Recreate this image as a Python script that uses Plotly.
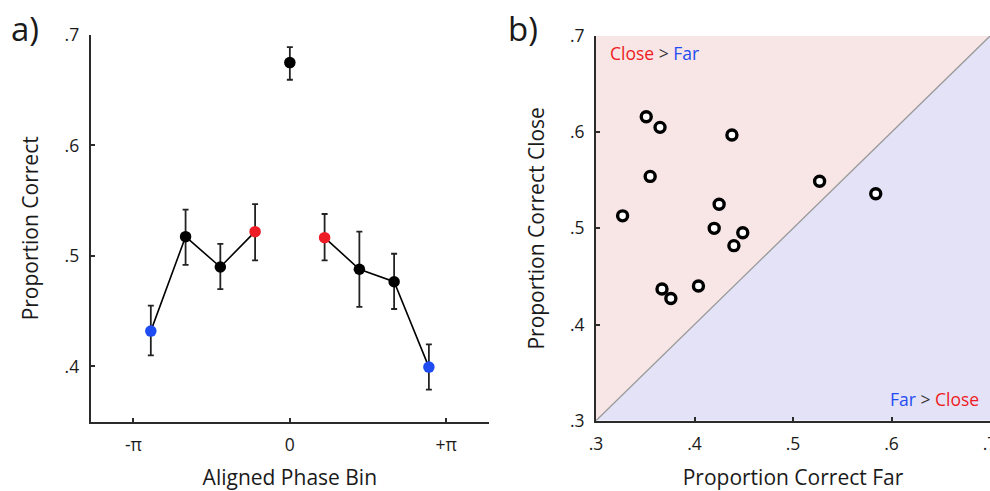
import numpy as np
import plotly.graph_objects as go

# ---------------- data ----------------
# panel a: aligned phase bins (in units of pi)
bin_frac_pi = [-8/9, -6/9, -4/9, -2/9, 0, 2/9, 4/9, 6/9, 8/9]
prop_correct = [0.432, 0.5175, 0.490, 0.522, 0.675, 0.5166, 0.488, 0.4767, 0.3994]
err_upper = [0.455, 0.542, 0.511, 0.547, 0.689, 0.538, 0.522, 0.502, 0.420]
err_lower = [0.410, 0.492, 0.470, 0.496, 0.6595, 0.496, 0.454, 0.452, 0.379]
bin_group = ["far", "mid", "mid", "close", "peak", "close", "mid", "mid", "far"]
x_tick_labels = ["-π", "0", "+π"]
y_tick_labels_a = [".4", ".5", ".6", ".7"]

# panel b: per-subject proportion correct
prop_far = [0.351, 0.365, 0.438, 0.355, 0.327, 0.527, 0.584, 0.425, 0.420, 0.449, 0.440, 0.367, 0.376, 0.404]
prop_close = [0.616, 0.605, 0.597, 0.554, 0.513, 0.549, 0.536, 0.525, 0.500, 0.4955, 0.482, 0.437, 0.427, 0.440]
tick_labels_b = [".3", ".4", ".5", ".6", ".7"]

# ---------------- styling ----------------
RED = "#ee1c24"
BLUE = "#1f4cf2"
PINK = "#f8e5e5"
LAVENDER = "#e4e2f7"
AX = "#2b2b2b"
FONT = "Open Sans"
group_color = {"far": BLUE, "mid": "#000000", "close": RED, "peak": "#000000"}

W, H = 990, 491

def dom_x(a, b):
    return [a / W, b / W]

def dom_y(top, bottom):
    return [(H - bottom) / H, (H - top) / H]

fig = go.Figure()

x_rad = [f * np.pi for f in bin_frac_pi]
# connecting line: peak bin is not connected
line_y = [v if g != "peak" else None for v, g in zip(prop_correct, bin_group)]
fig.add_trace(go.Scatter(
    x=x_rad, y=line_y, mode="lines", connectgaps=False,
    line=dict(color="#000000", width=1.6), hoverinfo="skip", showlegend=False,
    xaxis="x", yaxis="y"))
fig.add_trace(go.Scatter(
    x=x_rad, y=prop_correct, mode="markers",
    marker=dict(size=11.5, color=[group_color[g] for g in bin_group]),
    error_y=dict(type="data", symmetric=False,
                 array=[u - v for u, v in zip(err_upper, prop_correct)],
                 arrayminus=[v - l for l, v in zip(err_lower, prop_correct)],
                 color="#222222", thickness=1.8, width=3),
    showlegend=False, xaxis="x", yaxis="y"))

# panel b
lo_b, hi_b = 0.3, 0.7
fig.add_trace(go.Scatter(
    x=[lo_b, hi_b], y=[lo_b, hi_b], mode="lines",
    line=dict(color="#999999", width=1.3), hoverinfo="skip", showlegend=False,
    xaxis="x2", yaxis="y2"))
fig.add_trace(go.Scatter(
    x=prop_far, y=prop_close, mode="markers",
    marker=dict(size=10, color="white", line=dict(color="#000000", width=3.4)),
    showlegend=False, xaxis="x2", yaxis="y2"))

shapes = [
    dict(type="path", xref="x2", yref="y2", layer="below", line=dict(width=0),
         fillcolor=PINK,
         path=f"M {lo_b} {lo_b} L {lo_b} {hi_b} L {hi_b} {hi_b} Z"),
    dict(type="path", xref="x2", yref="y2", layer="below", line=dict(width=0),
         fillcolor=LAVENDER,
         path=f"M {lo_b} {lo_b} L {hi_b} {lo_b} L {hi_b} {hi_b} Z"),
]

tickfont = dict(family=FONT, size=17.5, color="#1a1a1a")
titlefont = dict(family=FONT, size=21, color="#1a1a1a")
axis_common = dict(showline=True, linecolor=AX, linewidth=2, ticks="inside",
                   ticklen=4, tickwidth=1.5, tickcolor=AX, showgrid=False,
                   zeroline=False, tickfont=tickfont, mirror=False,
                   automargin=False, ticklabeloverflow="allow")

fig.update_layout(
    template="none",
    width=W, height=H, margin=dict(l=0, r=0, t=0, b=0, pad=0),
    paper_bgcolor="white", plot_bgcolor="rgba(0,0,0,0)",
    font=dict(family=FONT, color="#1a1a1a"),
    shapes=shapes,
    xaxis=dict(domain=dom_x(90.7, 489), anchor="y", range=[-4, 4],
               tickvals=[-np.pi, 0, np.pi], ticktext=x_tick_labels,
               ticklabelstandoff=6,
               title=dict(text="Aligned Phase Bin", font=titlefont, standoff=17),
               **axis_common),
    yaxis=dict(domain=dom_y(35, 421.7), anchor="x", range=[0.35, 0.7],
               tickvals=[0.4, 0.5, 0.6, 0.7], ticktext=y_tick_labels_a,
               ticklabelstandoff=6,
               title=dict(text="Proportion Correct", font=titlefont, standoff=20),
               **axis_common),
    xaxis2=dict(domain=dom_x(596, 990), anchor="y2", range=[lo_b, hi_b],
                tickvals=[0.3, 0.4, 0.5, 0.6, 0.7], ticktext=tick_labels_b,
                ticklabelstandoff=6,
                title=dict(text="Proportion Correct Far", font=titlefont, standoff=17),
                **axis_common),
    yaxis2=dict(domain=dom_y(36, 420.7), anchor="x2", range=[lo_b, hi_b],
                tickvals=[0.3, 0.4, 0.5, 0.6, 0.7], ticktext=tick_labels_b,
                ticklabelstandoff=6,
                title=dict(text="Proportion Correct Close", font=titlefont, standoff=20),
                **axis_common),
    annotations=[
        dict(text="a)", xref="paper", yref="paper", x=9 / W, y=1 - 4 / H,
             xanchor="left", yanchor="top", showarrow=False,
             font=dict(family=FONT, size=33, color="#1a1a1a")),
        dict(text="b)", xref="paper", yref="paper", x=506 / W, y=1 - 4 / H,
             xanchor="left", yanchor="top", showarrow=False,
             font=dict(family=FONT, size=33, color="#1a1a1a")),
        dict(text=f"<span style='color:{RED}'>Close</span> &gt; <span style='color:{BLUE}'>Far</span>",
             xref="paper", yref="paper", x=608 / W, y=1 - 53 / H,
             xanchor="left", yanchor="middle", showarrow=False,
             font=dict(family=FONT, size=17.5, color="#333333")),
        dict(text=f"<span style='color:{BLUE}'>Far</span> &gt; <span style='color:{RED}'>Close</span>",
             xref="paper", yref="paper", x=981 / W, y=1 - 399 / H,
             xanchor="right", yanchor="middle", showarrow=False,
             font=dict(family=FONT, size=17.5, color="#333333")),
    ],
)

fig.write_html("out.html", config={"displayModeBar": False},
               post_script="document.body.style.margin='0';document.body.style.overflow='hidden';")
